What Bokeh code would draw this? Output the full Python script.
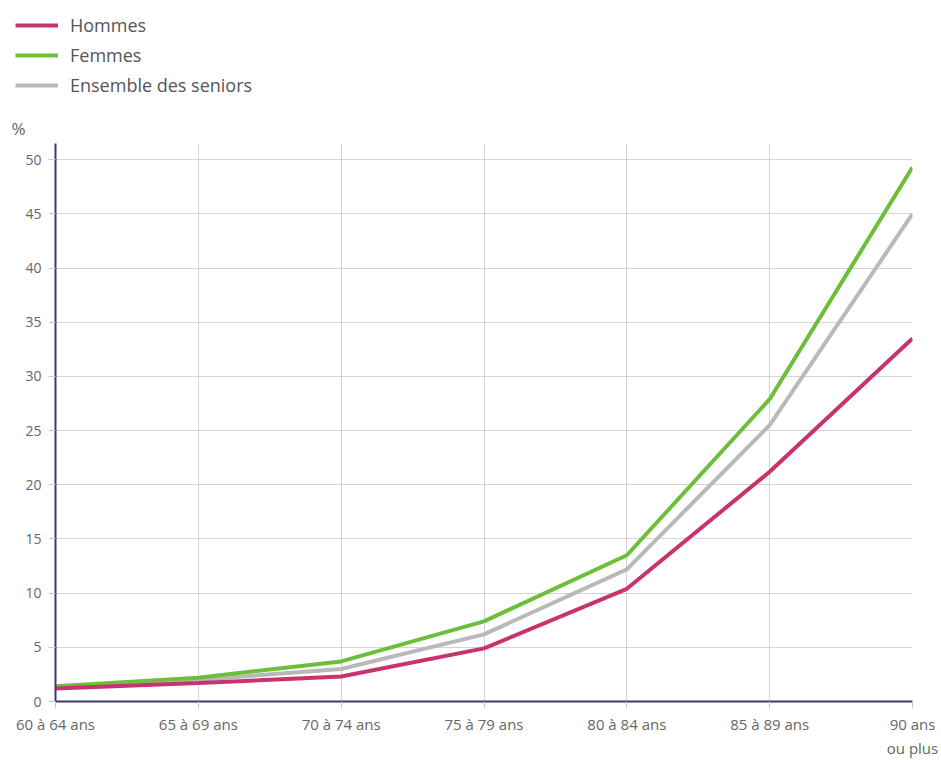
from bokeh.plotting import figure
from bokeh.models import Legend, LegendItem, Range1d, FixedTicker, ColumnDataSource
from bokeh.layouts import column, row
from bokeh.embed import file_html
from bokeh.resources import INLINE

categories = ["60 à 64 ans", "65 à 69 ans", "70 à 74 ans", "75 à 79 ans",
              "80 à 84 ans", "85 à 89 ans", "90 ans\nou plus"]
hommes = [1.2, 1.7, 2.3, 4.9, 10.4, 21.2, 33.5]
femmes = [1.4, 2.2, 3.7, 7.4, 13.5, 27.9, 49.3]
ensemble = [1.3, 2.0, 3.0, 6.2, 12.2, 25.5, 45.0]
series_names = ["Hommes", "Femmes", "Ensemble des seniors"]
series_colors = ["#c8336e", "#6cbf3a", "#b9b9b9"]
y_ticks = [0, 5, 10, 15, 20, 25, 30, 35, 40, 45, 50]

FONT = "Open Sans"
xs = list(range(len(categories)))
src = ColumnDataSource(dict(x=xs, h=hommes, f=femmes, e=ensemble))

# ---- legend strip (same series, plotted out of view so only the legend shows) ----
lg = figure(width=941, height=110, output_backend="svg", toolbar_location=None,
            x_axis_type=None, y_axis_type=None,
            x_range=Range1d(100, 101), y_range=Range1d(100, 101),
            min_border_left=0, min_border_right=0, min_border_top=0, min_border_bottom=0)
lg.outline_line_color = None
lg.grid.visible = False
items = []
for name, col, key in zip(series_names, series_colors, ["h", "f", "e"]):
    r = lg.line("x", key, source=src, line_color=col, line_width=4)
    items.append(LegendItem(label=name, renderers=[r]))
legend = Legend(items=items, location=(15, 13), orientation="vertical")
legend.label_text_font = FONT
legend.label_text_font_size = "18px"
legend.label_text_color = "#555555"
legend.glyph_width = 43
legend.glyph_height = 24
legend.label_height = 24
legend.spacing = 6
legend.label_standoff = 12
legend.padding = 0
legend.margin = 0
legend.border_line_color = None
legend.background_fill_alpha = 0
lg.add_layout(legend, "center")

# ---- main chart ----
p = figure(width=941, height=650, output_backend="svg", toolbar_location=None,
           x_range=Range1d(0, len(categories) - 1), y_range=Range1d(0, 51.5),
           min_border_left=55, min_border_right=29, min_border_top=33, min_border_bottom=52,
           title="%")
p.outline_line_color = None
p.background_fill_color = "white"
p.title.align = "left"
p.title.offset = -44
p.title.standoff = 7
p.title.text_font = FONT
p.title.text_font_size = "17px"
p.title.text_font_style = "normal"
p.title.text_color = "#666666"

p.line("x", "e", source=src, line_color=series_colors[2], line_width=4)
p.line("x", "f", source=src, line_color=series_colors[1], line_width=4)
p.line("x", "h", source=src, line_color=series_colors[0], line_width=4)

p.xaxis.ticker = FixedTicker(ticks=xs)
p.xaxis.major_label_overrides = {i: c for i, c in enumerate(categories)}
p.yaxis.ticker = FixedTicker(ticks=y_ticks)

for ax in (p.xaxis[0], p.yaxis[0]):
    ax.axis_line_color = "#3a3a6a"
    ax.axis_line_width = 2
    ax.major_tick_line_color = "#c8c8c8"
    ax.major_tick_out = 7
    ax.major_tick_in = 0
    ax.minor_tick_line_color = None
    ax.major_label_text_font = FONT
    ax.major_label_text_color = "#666666"
p.yaxis.major_label_text_font_size = "14px"
p.xaxis.major_label_text_font_size = "15px"
p.yaxis.major_label_standoff = 7
p.xaxis.major_label_standoff = 5

p.xgrid.ticker = FixedTicker(ticks=xs)
p.ygrid.ticker = FixedTicker(ticks=y_ticks)
p.grid.grid_line_color = "#d4d4d4"
p.grid.grid_line_width = 1

layout = column(row(lg), p, spacing=0)
open("out.html", "w").write(file_html(layout, INLINE))
